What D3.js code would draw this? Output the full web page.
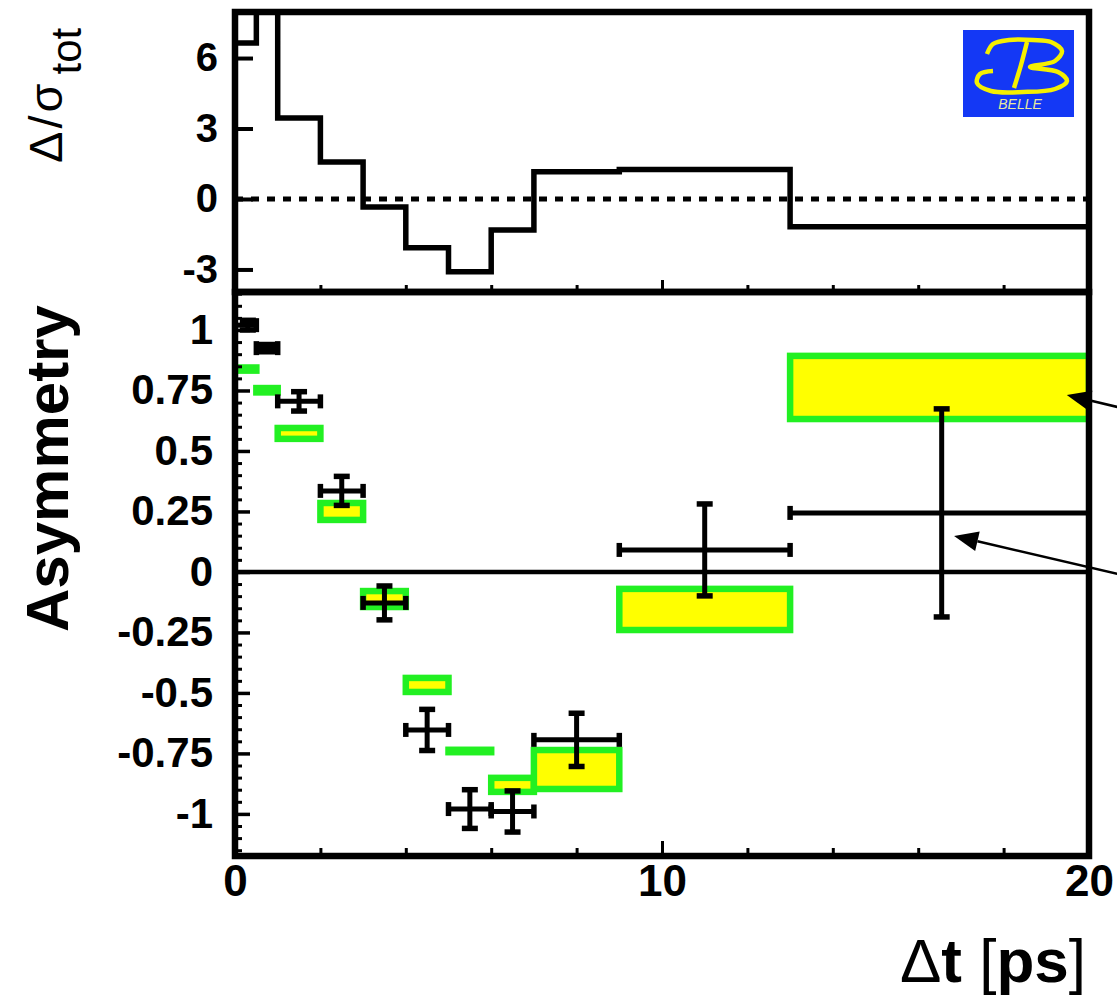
<!DOCTYPE html>
<html><head><meta charset="utf-8">
<script src="https://cdn.jsdelivr.net/npm/d3@7"></script>
<style>html,body{margin:0;padding:0;background:#fff;} svg{display:block}</style>
</head><body><svg id="c" width="1117" height="995"></svg>
<script>
// ---- data ----
const binLo = [0, 0.5, 1, 2, 3, 4, 5, 6, 7, 9, 13];
const binHi = [0.5, 1, 2, 3, 4, 5, 6, 7, 9, 13, 20];
const pull = [6.64, 9.5, 3.45, 1.57, -0.34, -2.08, -3.1, -1.32, 1.16, 1.26, -1.18];
const dataX = [0.3, 0.75, 1.5, 2.5, 3.5, 4.5, 5.5, 6.5, 8, 11, 16.55];
const dataY = [1.02, 0.925, 0.705, 0.335, -0.128, -0.653, -0.98, -0.99, -0.694, 0.091, 0.244];
const dataErr = [0.02, 0.015, 0.04, 0.06, 0.07, 0.085, 0.08, 0.085, 0.11, 0.19, 0.43];
const bandLo = [0.832, 0.742, 0.55, 0.215, -0.145, -0.496, -0.745, -0.909, -0.897, -0.24, 0.632];
const bandHi = [0.845, 0.76, 0.595, 0.285, -0.079, -0.438, -0.735, -0.851, -0.736, -0.07, 0.893];
const pullTicks = [-3, 0, 3, 6];
const asymTicks = [-1, -0.75, -0.5, -0.25, 0, 0.25, 0.5, 0.75, 1];
const timeTicks = [0, 10, 20];
const timeMinor = [2, 4, 6, 8, 12, 14, 16, 18];
const arrowTail = [[20.66, 0.682], [20.66, -0.008]];
const arrowTip = [[19.48, 0.731], [16.84, 0.149]];

// ---- layout ----
const svg = d3.select('#c');
const L = 235, R = 1089, T = 12, M = 292, B = 856;
const x = d3.scaleLinear().domain([0, 20]).range([L, R]);
const yT = d3.scaleLinear().domain([-3.96, 7.96]).range([M, T]);
const yB = d3.scaleLinear().domain([-1.174, 1.157]).range([B, M]);
const font = "'Liberation Sans', Arial, Helvetica, sans-serif";
const GREEN = '#22f022', YELLOW = '#ffff00';

const defs = svg.append('defs');
defs.append('clipPath').attr('id', 'clipT').append('rect').attr('x', L).attr('y', T).attr('width', R - L).attr('height', M - T);
defs.append('clipPath').attr('id', 'clipB').append('rect').attr('x', L).attr('y', M).attr('width', R - L).attr('height', B - M);

const bins = binLo.map((lo, i) => ({lo, hi: binHi[i], pull: pull[i], cx: dataX[i], v: dataY[i], e: dataErr[i], bl: bandLo[i], bh: bandHi[i]}));

// ---- top panel ----
const gT = svg.append('g').attr('clip-path', 'url(#clipT)');
gT.append('line').attr('x1', L).attr('x2', R).attr('y1', yT(0)).attr('y2', yT(0))
  .attr('stroke', '#000').attr('stroke-width', 5).attr('stroke-dasharray', '8,8');
const stepPts = [];
bins.forEach(b => { stepPts.push([b.lo, b.pull]); stepPts.push([b.hi, b.pull]); });
gT.append('path').datum(stepPts)
  .attr('d', d3.line().x(d => x(d[0])).y(d => yT(d[1])))
  .attr('fill', 'none').attr('stroke', '#000').attr('stroke-width', 5.5);

// top y axis
const axT = svg.append('g').attr('transform', `translate(${L},0)`)
  .call(d3.axisLeft(yT).tickValues(pullTicks).tickSizeInner(-18).tickSizeOuter(0).tickPadding(17).tickFormat(String));
axT.select('.domain').remove();
axT.selectAll('line').attr('stroke-width', 4);
axT.selectAll('text').attr('font-family', font).attr('font-weight', 'bold').attr('font-size', 40);

// top x ticks (bottom of top panel)
svg.append('g').attr('transform', `translate(0,${M})`)
  .call(d3.axisBottom(x).tickValues(timeTicks).tickSizeInner(-12).tickSizeOuter(0).tickFormat(''))
  .call(g => { g.select('.domain').remove(); g.selectAll('line').attr('stroke-width', 3); });
svg.append('g').attr('transform', `translate(0,${M})`)
  .call(d3.axisBottom(x).tickValues(timeMinor).tickSizeInner(-7).tickSizeOuter(0).tickFormat(''))
  .call(g => { g.select('.domain').remove(); g.selectAll('line').attr('stroke-width', 3); });

// ---- bottom panel ----
const gB = svg.append('g').attr('clip-path', 'url(#clipB)');
gB.selectAll('rect.band').data(bins).join('rect').attr('class', 'band')
  .attr('x', d => x(d.lo)).attr('width', d => x(d.hi) - x(d.lo))
  .attr('y', d => yB(d.bh)).attr('height', d => yB(d.bl) - yB(d.bh))
  .attr('fill', YELLOW).attr('stroke', GREEN).attr('stroke-width', 6.5);

gB.append('line').attr('x1', L).attr('x2', R).attr('y1', yB(0)).attr('y2', yB(0))
  .attr('stroke', '#000').attr('stroke-width', 4.5);

const pts = gB.selectAll('g.pt').data(bins).join('g').attr('class', 'pt')
  .attr('stroke', '#000').attr('stroke-width', 5);
pts.append('line').attr('x1', d => x(d.lo)).attr('x2', d => x(d.hi)).attr('y1', d => yB(d.v)).attr('y2', d => yB(d.v));
pts.append('line').attr('x1', d => x(d.lo)).attr('x2', d => x(d.lo)).attr('y1', d => yB(d.v) - 7).attr('y2', d => yB(d.v) + 7).attr('stroke-width', 5.5);
pts.append('line').attr('x1', d => x(d.hi)).attr('x2', d => x(d.hi)).attr('y1', d => yB(d.v) - 7).attr('y2', d => yB(d.v) + 7).attr('stroke-width', 5.5);
pts.append('line').attr('x1', d => x(d.cx)).attr('x2', d => x(d.cx)).attr('y1', d => yB(d.v + d.e)).attr('y2', d => yB(d.v - d.e));
pts.append('line').attr('x1', d => x(d.cx) - 8).attr('x2', d => x(d.cx) + 8).attr('y1', d => yB(d.v + d.e)).attr('y2', d => yB(d.v + d.e)).attr('stroke-width', 5.5);
pts.append('line').attr('x1', d => x(d.cx) - 8).attr('x2', d => x(d.cx) + 8).attr('y1', d => yB(d.v - d.e)).attr('y2', d => yB(d.v - d.e)).attr('stroke-width', 5.5);

// bottom y axis
const axB = svg.append('g').attr('transform', `translate(${L},0)`)
  .call(d3.axisLeft(yB).tickValues(asymTicks).tickSizeInner(-15).tickSizeOuter(0).tickPadding(22).tickFormat(String));
axB.select('.domain').remove();
axB.selectAll('line').attr('stroke-width', 3.5);
axB.selectAll('text').attr('font-family', font).attr('font-weight', 'bold').attr('font-size', 42);
const minorY = d3.range(-23, 24).map(i => i * 0.05).filter(v => Math.abs(Math.round(v * 4) - v * 4) > 1e-6);
svg.append('g').attr('transform', `translate(${L},0)`)
  .call(d3.axisLeft(yB).tickValues(minorY).tickSizeInner(-7).tickSizeOuter(0).tickFormat(''))
  .call(g => { g.select('.domain').remove(); g.selectAll('line').attr('stroke-width', 3); });

// bottom x axis
const axX = svg.append('g').attr('transform', `translate(0,${B})`)
  .call(d3.axisBottom(x).tickValues(timeTicks).tickSizeInner(-15).tickSizeOuter(0).tickPadding(9).tickFormat(String));
axX.select('.domain').remove();
axX.selectAll('line').attr('stroke-width', 3);
axX.selectAll('text').attr('font-family', font).attr('font-weight', 'bold').attr('font-size', 44);
svg.append('g').attr('transform', `translate(0,${B})`)
  .call(d3.axisBottom(x).tickValues(timeMinor).tickSizeInner(-8).tickSizeOuter(0).tickFormat(''))
  .call(g => { g.select('.domain').remove(); g.selectAll('line').attr('stroke-width', 3); });

// frames
svg.append('rect').attr('x', L).attr('y', T).attr('width', R - L).attr('height', M - T)
  .attr('fill', 'none').attr('stroke', '#000').attr('stroke-width', 6.5);
svg.append('rect').attr('x', L).attr('y', M).attr('width', R - L).attr('height', B - M)
  .attr('fill', 'none').attr('stroke', '#000').attr('stroke-width', 6.5);

// arrows
arrowTail.forEach((t, i) => {
  const x1 = x(t[0]), y1 = yB(t[1]), x2 = x(arrowTip[i][0]), y2 = yB(arrowTip[i][1]);
  const ang = Math.atan2(y2 - y1, x2 - x1), len = 24, w = 10;
  const bx = x2 - len * Math.cos(ang), by = y2 - len * Math.sin(ang);
  svg.append('line').attr('x1', x1).attr('y1', y1).attr('x2', bx).attr('y2', by)
    .attr('stroke', '#000').attr('stroke-width', 2.5);
  const px = -Math.sin(ang) * w, py = Math.cos(ang) * w;
  svg.append('polygon').attr('points', `${x2},${y2} ${bx + px},${by + py} ${bx - px},${by - py}`).attr('fill', '#000');
});

// axis titles
svg.append('text').attr('transform', 'translate(68,632) rotate(-90)')
  .attr('font-family', font).attr('font-weight', 'bold').attr('font-size', 60).text('Asymmetry');
const tp = svg.append('text').attr('transform', 'translate(62,163) rotate(-90)')
  .attr('font-family', font).attr('font-size', 47);
tp.append('tspan').attr('letter-spacing', 3).text('Δ/σ');
tp.append('tspan').attr('font-size', 42).attr('dx', 6).attr('dy', 19).text('tot');
const tx = svg.append('text').attr('x', 1086).attr('y', 982).attr('text-anchor', 'end')
  .attr('font-family', font).attr('font-size', 62);
tx.append('tspan').text('Δ');
tx.append('tspan').attr('font-weight', 'bold').text('t');
tx.append('tspan').text(' [');
tx.append('tspan').attr('font-weight', 'bold').text('ps');
tx.append('tspan').text(']');

// Belle logo
const lg = svg.append('g').attr('transform', 'translate(963,30)');
lg.append('rect').attr('width', 111).attr('height', 87).attr('fill', '#1438f5');
const curve = d3.line().curve(d3.curveCatmullRom.alpha(0.5));
lg.append('path').attr('d', curve([[24,24],[30,14],[46,10],[70,10],[88,12],[99,21],[92,31],[67,37],[95,42],[104,51],[92,59],[60,62],[28,61],[14,53],[17,44],[30,41]]))
  .attr('fill', 'none').attr('stroke', '#f5f000').attr('stroke-width', 4.5);
lg.append('path').attr('d', curve([[64,12],[58,35],[51,58]]))
  .attr('fill', 'none').attr('stroke', '#f5f000').attr('stroke-width', 4.5);
lg.append('text').attr('x', 57).attr('y', 79).attr('text-anchor', 'middle')
  .attr('font-family', font).attr('font-style', 'italic').attr('font-size', 14)
  .attr('fill', '#e8e8a0').text('BELLE');
</script></body></html>
